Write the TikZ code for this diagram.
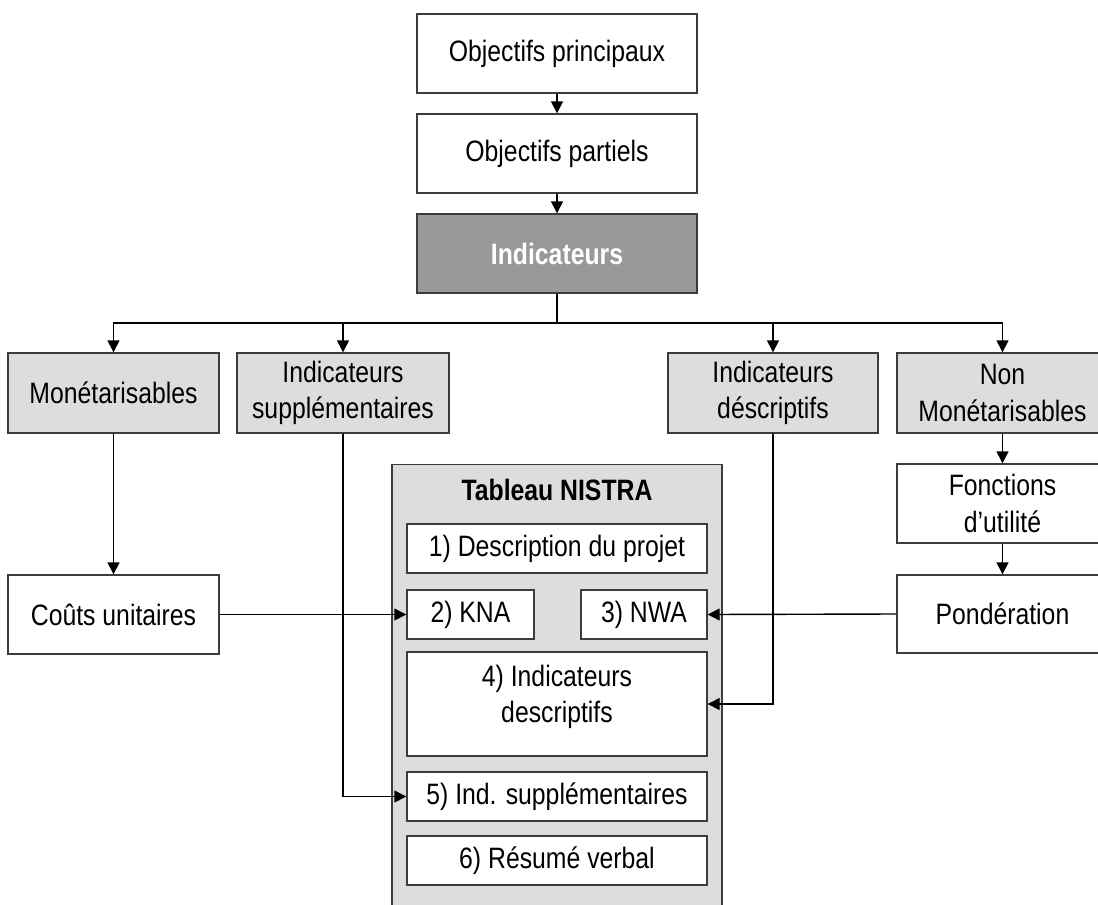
\documentclass[tikz,border=0pt]{standalone}
\usepackage{fontspec}
\setmainfont{Liberation Sans}[FakeStretch=0.84]
\usetikzlibrary{arrows.meta}
\definecolor{boxline}{HTML}{3C3C3C}
\definecolor{lightfill}{HTML}{DDDDDD}
\definecolor{darkfill}{HTML}{999999}

\begin{document}
\begin{tikzpicture}[x=1pt,y=-1pt,
  font=\fontsize{29.5}{36.5}\selectfont,
  box/.style 2 args={draw=boxline, line width=1.4pt, fill=white, inner sep=0pt,
    align=center, minimum width=#1pt, minimum height=#2pt},
  graybox/.style 2 args={box={#1}{#2}, fill=lightfill},
  conn/.style={draw=black, line width=1.4pt, -{Triangle[length=12pt,width=12pt]}},
  plain/.style={draw=black, line width=1.4pt}]

\useasboundingbox (0,0) rectangle (1098,905);
\clip (0,0) rectangle (1098,905);

% goal hierarchy
\node[box={280}{79}] (op) at (557,53.5) {Objectifs principaux};
\node[box={280}{79}] (opart) at (557,153.5) {Objectifs partiels};
\node[box={280}{79}, fill=darkfill, text=white, font=\fontsize{29.5}{36.5}\selectfont\bfseries] (ind) at (557,253.5) {Indicateurs};

% indicator categories
\node[graybox={211}{80}] (mon) at (113.5,393) {Monétarisables};
\node[graybox={212}{80}] (isup) at (343,393) {Indicateurs\\supplémentaires};
\node[graybox={210}{80}] (idesc) at (773,393) {Indicateurs\\déscriptifs};
\node[graybox={211}{80}] (nmon) at (1002.5,393) {Non\\Monétarisables};

% left and right branches
\node[box={211}{79}] (couts) at (113.5,614.5) {Coûts unitaires};
\node[box={211}{79}] (fonct) at (1002.5,503.5) {Fonctions\\d’utilité};
\node[box={211}{78}] (pond) at (1002.5,614) {Pondération};

% NISTRA table
\node[graybox={330}{480}, anchor=north] (tab) at (557,464) {};
\node[font=\fontsize{29.5}{36.5}\selectfont\bfseries] (tabtitle) at (557,490) {Tableau NISTRA};
\node[box={300}{49}] (d1) at (557,548.5) {1) Description du projet};
\node[box={127}{49}] (kna) at (470.5,614.5) {2) KNA};
\node[box={126}{49}] (nwa) at (644,614.5) {3) NWA};
\node[box={300}{104}] (d4) at (557,704) {};
\node[align=center] (d4text) at (557,697) {4) Indicateurs\\descriptifs};
\node[box={300}{49}] (d5) at (557,796.5) {5) Ind. supplémentaires};
\node[box={300}{49}] (d6) at (557,860.5) {6) Résumé verbal};

% connectors
\coordinate (bus) at (557,323);
\draw[conn] (op) -- (opart);
\draw[conn] (opart) -- (ind);
\draw[plain] (ind.south) -- (bus);
\draw[conn] (bus) -| (mon.north);
\draw[conn] (bus) -| (isup.north);
\draw[conn] (bus) -| (idesc.north);
\draw[conn] (bus) -| (nmon.north);
\draw[conn] (mon) -- (couts);
\draw[conn] (nmon) -- (fonct);
\draw[conn] (fonct) -- (pond);
\draw[conn] (couts.east) -- (kna.west);
\draw[conn] (pond.west) -- (nwa.east);
\draw[conn] (isup.south) |- (d5.west);
\draw[conn] (idesc.south) |- (d4.east);
\end{tikzpicture}
\end{document}
